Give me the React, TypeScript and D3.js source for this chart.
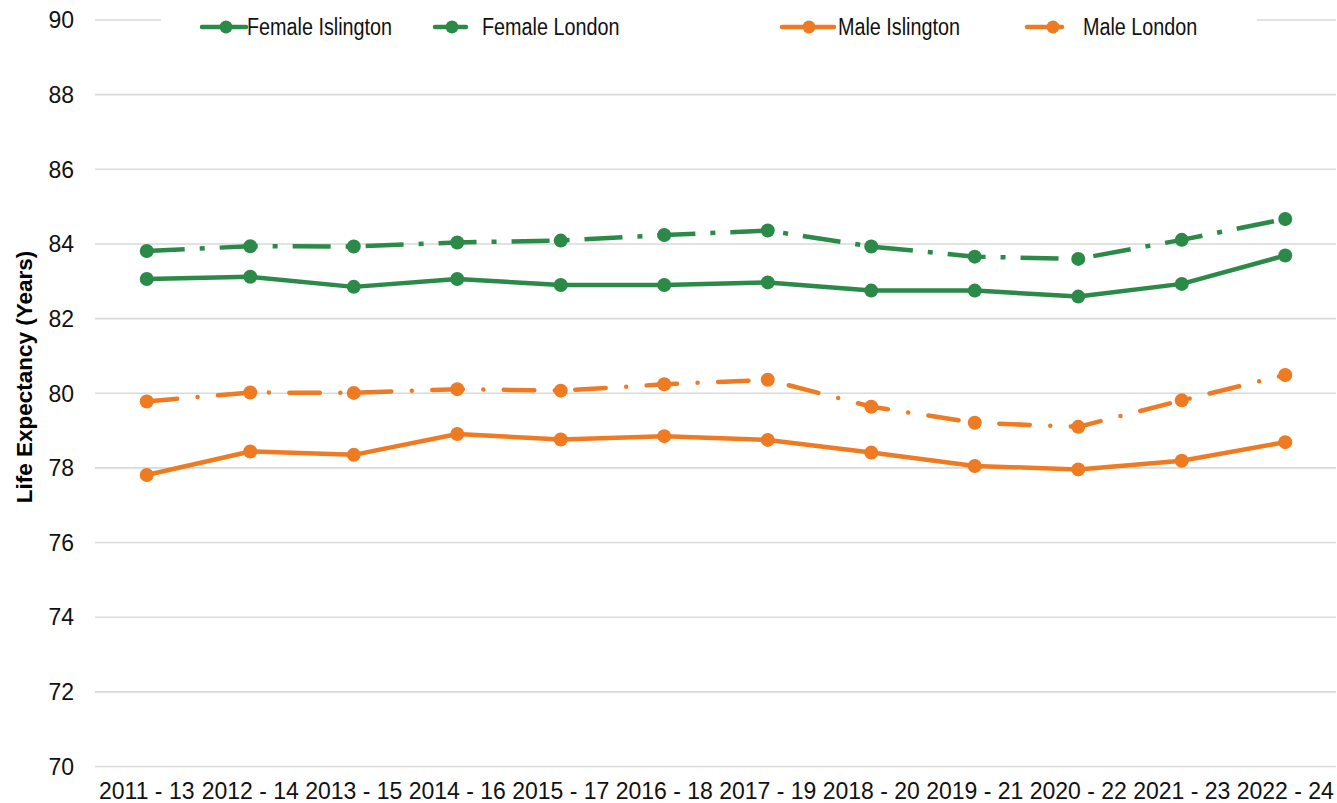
import React from "react";
import * as d3 from "d3";

// Three-year rolling periods
const periods = [
  "2011 - 13", "2012 - 14", "2013 - 15", "2014 - 16", "2015 - 17", "2016 - 18",
  "2017 - 19", "2018 - 20", "2019 - 21", "2020 - 22", "2021 - 23", "2022 - 24",
];

// Life expectancy at birth (years)
const femaleIslington = [83.06, 83.12, 82.85, 83.06, 82.9, 82.9, 82.97, 82.75, 82.75, 82.59, 82.93, 83.69];
const femaleLondon = [83.81, 83.94, 83.93, 84.04, 84.09, 84.24, 84.36, 83.93, 83.66, 83.6, 84.11, 84.67];
const maleIslington = [77.81, 78.44, 78.35, 78.91, 78.76, 78.85, 78.75, 78.41, 78.05, 77.96, 78.19, 78.69];
const maleLondon = [79.78, 80.02, 80.01, 80.11, 80.07, 80.24, 80.36, 79.64, 79.21, 79.1, 79.81, 80.49];

const yTicks = [70, 72, 74, 76, 78, 80, 82, 84, 86, 88, 90];

const GREEN = "#2B8A48";
const ORANGE = "#EE7A21";
const FONT = "'Liberation Sans', Arial, sans-serif";

const W = 1337;
const H = 803;

type Series = {
  name: string;
  values: number[];
  color: string;
  dash?: string;
  cap: "butt" | "round";
};

const series: Series[] = [
  { name: "Female Islington", values: femaleIslington, color: GREEN, cap: "round" },
  { name: "Female London", values: femaleLondon, color: GREEN, dash: "38 15 5 15", cap: "butt" },
  { name: "Male Islington", values: maleIslington, color: ORANGE, cap: "round" },
  { name: "Male London", values: maleLondon, color: ORANGE, dash: "30.5 20.5 0 20.5", cap: "round" },
];

// Legend layout: line start/end, marker x, text x
const legendLayout = [
  { x0: 202, x1: 246, mx: 226, tx: 247 },
  { x0: 435, x1: 466, mx: 452, tx: 482 },
  { x0: 782, x1: 834, mx: 809, tx: 838 },
  { x0: 1027, x1: 1062, mx: 1053, tx: 1083 },
];

export default function App() {
  const x = d3.scalePoint<string>().domain(periods).range([95, 1337]).padding(0.5);
  const y = d3.scaleLinear().domain([70, 90]).range([766.5, 20]);

  const line = d3
    .line<number>()
    .x((_, i) => x(periods[i]) as number)
    .y((v) => y(v));

  return (
    <svg
      width={W}
      height={H}
      style={{ position: "absolute", left: 0, top: 0, background: "#fff" }}
      fontFamily={FONT}
    >
      {/* gridlines */}
      {yTicks.map((t) => (
        <line key={t} x1={95} x2={1336} y1={y(t)} y2={y(t)} stroke="#D9D9D9" strokeWidth={1.6} />
      ))}

      {/* y tick labels */}
      {yTicks.map((t) => (
        <text key={t} x={74} y={y(t)} dy="0.36em" textAnchor="end" fontSize={23} fill="#111">
          {t}
        </text>
      ))}

      {/* x tick labels */}
      {periods.map((p) => (
        <text key={p} x={x(p)} y={799} textAnchor="middle" fontSize={23} fill="#111">
          {p}
        </text>
      ))}

      {/* y axis title */}
      <text
        transform={`translate(32, 377) rotate(-90)`}
        textAnchor="middle"
        fontSize={22.5}
        fontWeight="bold"
        fill="#000"
      >
        Life Expectancy (Years)
      </text>

      {/* series lines and markers */}
      {series.map((s) => (
        <g key={s.name}>
          <path
            d={line(s.values) || ""}
            fill="none"
            stroke={s.color}
            strokeWidth={4.5}
            strokeDasharray={s.dash}
            strokeLinecap={s.cap}
            strokeLinejoin="round"
          />
          {s.values.map((v, i) => (
            <circle key={i} cx={x(periods[i])} cy={y(v)} r={7} fill={s.color} />
          ))}
        </g>
      ))}

      {/* legend */}
      <rect x={161} y={4} width={1096} height={44} fill="#fff" />
      {series.map((s, i) => {
        const l = legendLayout[i];
        return (
          <g key={s.name}>
            <line x1={l.x0} x2={l.x1} y1={27} y2={27} stroke={s.color} strokeWidth={4.5} strokeLinecap="round" />
            <circle cx={l.mx} cy={27} r={6.5} fill={s.color} />
            <text
              transform={`translate(${l.tx}, 27) scale(0.86, 1)`}
              dy="0.36em"
              fontSize={23}
              fill="#111"
            >
              {s.name}
            </text>
          </g>
        );
      })}
    </svg>
  );
}
